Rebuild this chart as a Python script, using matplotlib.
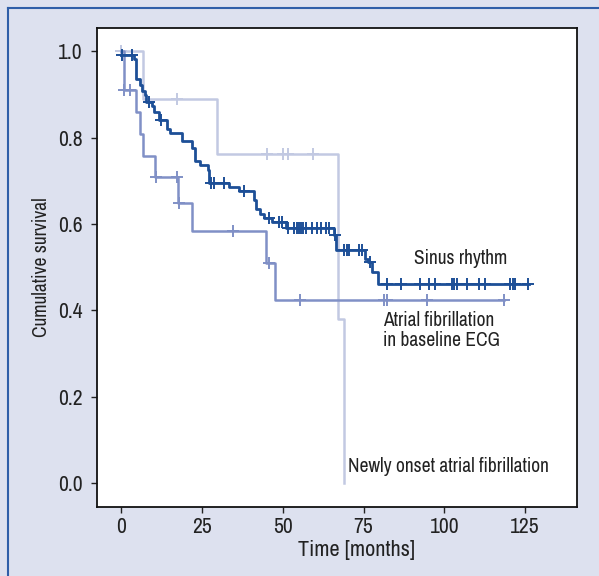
import numpy as np
import matplotlib.pyplot as plt
from matplotlib.lines import Line2D

# narrow sans like the reference, condensed DejaVu as a fallback
plt.rcParams['font.family'] = ['Archivo Narrow', 'DejaVu Sans']
plt.rcParams['font.stretch'] = 'condensed'

# Sinus rhythm: step times and survival after each step
sr_t = [0, 3.8, 4.6, 5.7, 6.4, 7.2, 7.8, 9.5, 10.2, 11.6, 14.2, 15.0, 18.8, 21.9,
        22.7, 24.4, 26.7, 27.2, 33.2, 36.3, 41.2, 41.8, 43.0, 44.1, 46.6, 51.0,
        65.7, 66.6, 75.5, 76.5, 77.7, 79.4, 126.2]
sr_s = [0.99, 0.981, 0.935, 0.921, 0.908, 0.898, 0.883, 0.872, 0.860, 0.841, 0.820,
        0.811, 0.793, 0.776, 0.746, 0.736, 0.725, 0.695, 0.686, 0.676, 0.655, 0.634,
        0.623, 0.614, 0.605, 0.590, 0.574, 0.539, 0.520, 0.512, 0.489, 0.461, 0.461]
sr_cens = [0.3, 3.3, 8.7, 12.3, 27.8, 28.6, 31.7, 38.0, 45.8, 48.9, 49.7, 51.5, 53.6,
           54.4, 55.1, 55.7, 56.4, 57.3, 59.0, 60.6, 61.9, 63.4, 64.2, 66.2, 69.0,
           69.8, 70.6, 73.7, 74.6, 77.0, 82.2, 86.6, 92.5, 95.1, 97.2, 102.3, 103.1,
           103.8, 106.9, 110.8, 112.6, 120.3, 121.2, 122.0, 126.0]

# Atrial fibrillation in baseline ECG
af_t = [0, 0.7, 4.5, 5.9, 6.7, 10.5, 17.6, 21.9, 44.8, 47.6, 118.5]
af_s = [1.0, 0.909, 0.860, 0.808, 0.757, 0.708, 0.649, 0.584, 0.510, 0.425, 0.425]
af_cens = [0.7, 2.8, 10.6, 17.2, 17.9, 34.6, 45.8, 55.2, 81.4, 82.2, 94.6, 118.5]

# Newly onset atrial fibrillation
no_t = [0, 6.6, 29.6, 67.0, 68.8]
no_s = [1.0, 0.889, 0.762, 0.381, 0.0]
no_cens = [0.0, 17.2, 45.0, 50.0, 51.7, 59.4]

c_sr = "#1d4f97"
c_af = "#8090c6"
c_no = "#c2c9e2"
bg = "#dde1ef"
txt = "#222222"


def surv_at(times, surv, t):
    i = np.searchsorted(times, t, side='right') - 1
    return np.array(surv)[i]


fig = plt.figure(figsize=(5.99, 5.76), dpi=100, facecolor=bg)
ax = fig.add_axes([0.162, 0.1198, 0.801, 0.8312])
ax.set_facecolor("white")

for times, surv, cens, col, lw in [(no_t, no_s, no_cens, c_no, 1.8),
                                   (af_t, af_s, af_cens, c_af, 1.8),
                                   (sr_t, sr_s, sr_cens, c_sr, 2.0)]:
    ax.plot(times, surv, drawstyle='steps-post', color=col, lw=lw)
    ax.plot(cens, surv_at(times, surv, cens), ls='none', marker='+',
            ms=9, mew=1.4, color=col)

ax.text(90.7, 0.521, "Sinus rhythm", fontsize=14, va='center', color=txt)
ax.text(81, 0.353, "Atrial fibrillation\nin baseline ECG", fontsize=14,
        va='center', color=txt, linespacing=1.1)
ax.text(70.2, 0.039, "Newly onset atrial fibrillation", fontsize=14,
        va='center', color=txt)

ax.set_xlim(-7.5, 141)
ax.set_ylim(-0.055, 1.053)
ax.set_xticks([0, 25, 50, 75, 100, 125])
ax.set_yticks([0.0, 0.2, 0.4, 0.6, 0.8, 1.0])
ax.set_yticklabels(["0.0", "0.2", "0.4", "0.6", "0.8", "1.0"])
ax.tick_params(labelsize=15.5, length=4.5, width=1, colors=txt)
ax.tick_params(axis='y', pad=6)
ax.tick_params(axis='x', pad=3)
ax.set_xlabel("Time [months]", fontsize=16, color=txt)
ax.xaxis.set_label_coords(0.54, -0.068)
ax.set_ylabel("Cumulative survival", fontsize=14, color=txt)
ax.yaxis.set_label_coords(-0.095, 0.5)
for sp in ax.spines.values():
    sp.set_linewidth(1.3)
    sp.set_color('#111111')

# frame lines round the figure
fig.add_artist(Line2D([8 / 599, 1], [1 - 8 / 576, 1 - 8 / 576], color="#2f5ea8", lw=1.5))
fig.add_artist(Line2D([8 / 599, 8 / 599], [0, 1 - 8 / 576], color="#2f5ea8", lw=1.5))

fig.savefig("out.png", dpi=100, facecolor=bg)
